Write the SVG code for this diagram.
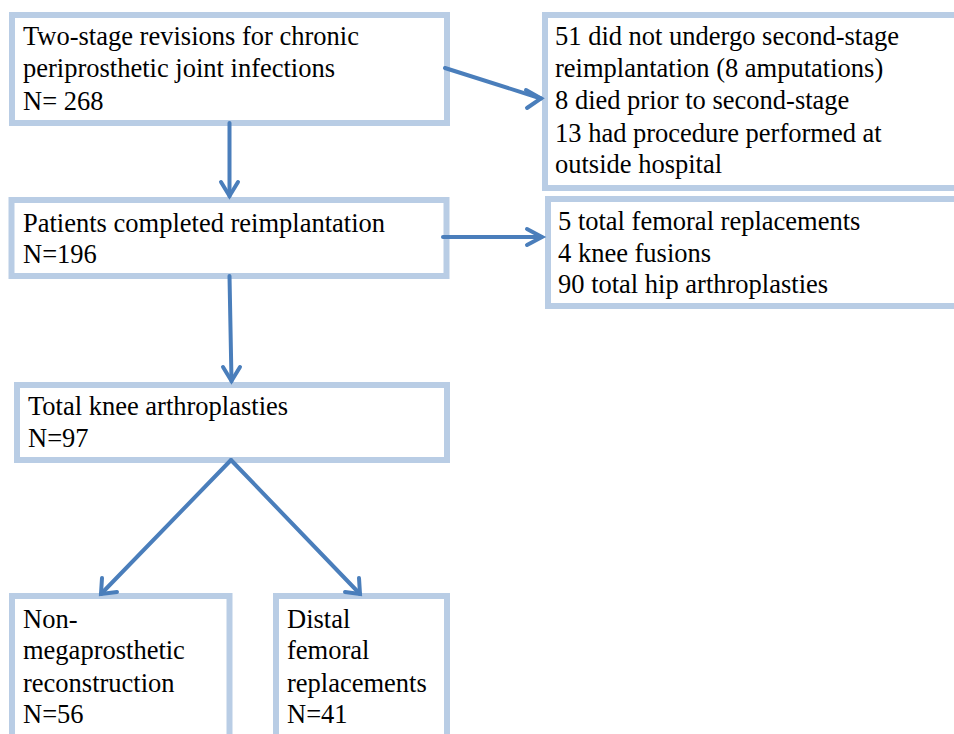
<svg xmlns="http://www.w3.org/2000/svg" width="954" height="734" viewBox="0 0 954 734">
<rect width="954" height="734" fill="#fff"/>
<g id="n1"><rect x="12" y="15" width="435" height="108" fill="#fff" stroke="#b9cde5" stroke-width="6"/>
<text x="23" y="45" font-family="Liberation Serif" font-size="26.5">Two-stage revisions for chronic</text>
<text x="23" y="77" font-family="Liberation Serif" font-size="26.5">periprosthetic joint infections</text>
<text x="23" y="110" font-family="Liberation Serif" font-size="26.5">N= 268</text></g>
<g id="n2"><rect x="545" y="15" width="420" height="173" fill="#fff" stroke="#b9cde5" stroke-width="6"/>
<text x="555" y="45" font-family="Liberation Serif" font-size="26.5">51 did not undergo second-stage</text>
<text x="555" y="77" font-family="Liberation Serif" font-size="26.5">reimplantation (8 amputations)</text>
<text x="555" y="109" font-family="Liberation Serif" font-size="26.5">8 died prior to second-stage</text>
<text x="555" y="142" font-family="Liberation Serif" font-size="26.5">13 had procedure performed at</text>
<text x="555" y="173" font-family="Liberation Serif" font-size="26.5">outside hospital</text></g>
<g id="n3"><rect x="11.5" y="200" width="435" height="76" fill="#fff" stroke="#b9cde5" stroke-width="6"/>
<text x="23" y="232" font-family="Liberation Serif" font-size="26.5">Patients completed reimplantation</text>
<text x="23" y="263" font-family="Liberation Serif" font-size="26.5">N=196</text></g>
<g id="n4"><rect x="548" y="199" width="420" height="107" fill="#fff" stroke="#b9cde5" stroke-width="6"/>
<text x="558" y="230" font-family="Liberation Serif" font-size="26.5">5 total femoral replacements</text>
<text x="558" y="262" font-family="Liberation Serif" font-size="26.5">4 knee fusions</text>
<text x="558" y="293" font-family="Liberation Serif" font-size="26.5">90 total hip arthroplasties</text></g>
<g id="n5"><rect x="17" y="385" width="430" height="75" fill="#fff" stroke="#b9cde5" stroke-width="6"/>
<text x="28" y="415" font-family="Liberation Serif" font-size="26.5">Total knee arthroplasties</text>
<text x="28" y="447" font-family="Liberation Serif" font-size="26.5">N=97</text></g>
<g id="n6"><rect x="12" y="596" width="217.5" height="160" fill="#fff" stroke="#b9cde5" stroke-width="6"/>
<text x="23" y="628" font-family="Liberation Serif" font-size="26.5">Non-</text>
<text x="23" y="659" font-family="Liberation Serif" font-size="26.5">megaprosthetic</text>
<text x="23" y="692" font-family="Liberation Serif" font-size="26.5">reconstruction</text>
<text x="23" y="723" font-family="Liberation Serif" font-size="26.5">N=56</text></g>
<g id="n7"><rect x="276" y="596" width="171" height="160" fill="#fff" stroke="#b9cde5" stroke-width="6"/>
<text x="287" y="628" font-family="Liberation Serif" font-size="26.5">Distal</text>
<text x="287" y="659" font-family="Liberation Serif" font-size="26.5">femoral</text>
<text x="287" y="692" font-family="Liberation Serif" font-size="26.5">replacements</text>
<text x="287" y="723" font-family="Liberation Serif" font-size="26.5">N=41</text></g>
<g id="connectors" stroke="#4a7ebb" stroke-width="4" fill="none" stroke-linecap="round">
<path d="M229.5,123 V196"/>
<path d="M221,182 L229.5,196 L238,182"/>
<path d="M445,68 L541,98.5"/>
<path d="M526,90 L541,98.5 L527,108"/>
<path d="M443,237 L541,237"/>
<path d="M527,229 L542,237 L527,245"/>
<path d="M229.5,276 L231.5,381"/>
<path d="M223,367 L231.5,381 L240,367"/>
<path d="M231,460 L101,594"/>
<path d="M102,578 L101,594 L117,592"/>
<path d="M231,460 L360,594"/>
<path d="M345,592 L360,594 L359,578"/>
</g>
</svg>
